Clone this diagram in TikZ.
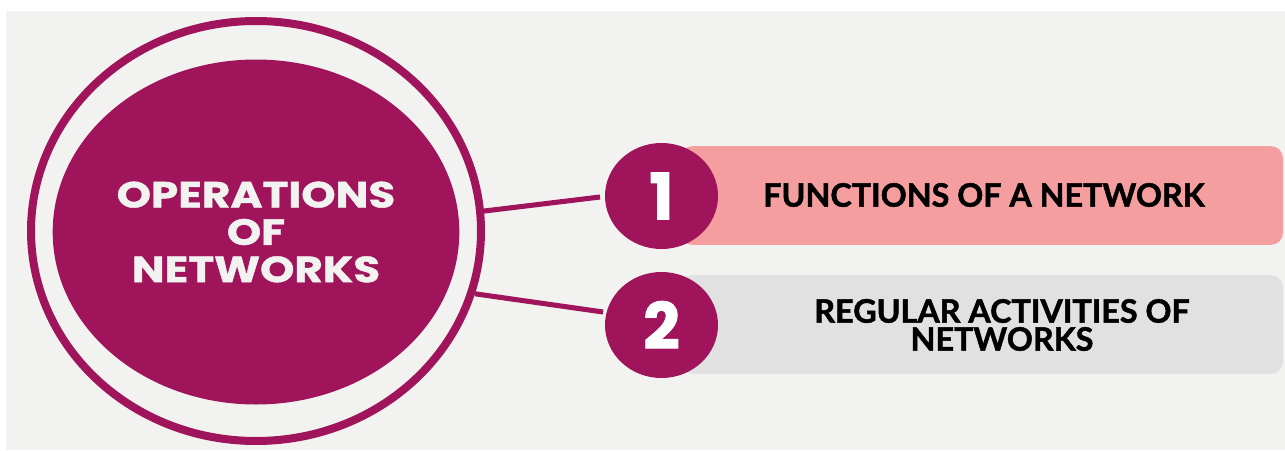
\documentclass[tikz,border=0pt]{standalone}
\usepackage{fontspec}
\setmainfont{Poppins}
\newfontfamily\corefont{Poppins}[FakeStretch=1.2, BoldFeatures={FakeBold=1.2}]
\newfontfamily\numfont{Poppins}[BoldFeatures={FakeBold=1.5}]
\newfontfamily\barfont{Lato}[BoldFeatures={FakeBold=1.5}]
\usetikzlibrary{shapes.geometric}
\definecolor{magen}{HTML}{9F145A}
\definecolor{bgg}{HTML}{F2F2F0}
\definecolor{pinkbar}{HTML}{F59E9F}
\definecolor{graybar}{HTML}{E0E1E0}
\tikzset{
  ringstyle/.style={ellipse, draw=magen, line width=6pt, fill=none},
  corestyle/.style={ellipse, fill=magen, text=bgg, align=center, font=\corefont\bfseries\fontsize{27.3}{28}\selectfont},
  numstyle/.style={ellipse, fill=magen, text=white, font=\numfont\bfseries\fontsize{48}{48}\selectfont, minimum width=84.75pt, minimum height=79.5pt, inner sep=0pt},
  barstyle/.style={rectangle, rounded corners=9pt, minimum width=452pt, minimum height=74pt, anchor=west},
  bartext/.style={text=black, inner sep=1pt, text height=17.5pt, text depth=0pt, font=\barfont\bfseries\fontsize{24.2}{24}\selectfont},
  link/.style={draw=magen, line width=3.8pt}
}
\begin{document}
\begin{tikzpicture}[x=0.75pt,y=-0.75pt]
\useasboundingbox (0,0) rectangle (1285,450);
\fill[white] (0,0) rectangle (1285,450);
\fill[bgg] (6,11) rectangle (1285,450);
% bars
\node[barstyle, fill=pinkbar] (bar1) at (680,195.5) {};
\node[barstyle, fill=graybar] (bar2) at (680,324.5) {};
\node[bartext] (t1) at (984,195) {FUNCTIONS OF A NETWORK};
\node[bartext] (t2a) at (1002,311) {REGULAR ACTIVITIES OF};
\node[bartext] (t2b) at (1002,339) {NETWORKS};
% main circle
\node[ringstyle, minimum width=337.5pt, minimum height=315pt] (ring) at (256,231) {};
\node[corestyle, minimum width=271.5pt, minimum height=258.75pt] (core) at (256,232) {OPERATIONS\\OF\\NETWORKS};
% connectors
\draw[link] (ring.5) -- (600,197) coordinate (e1);
\draw[link] (ring.-16) -- (603,312) coordinate (e2);
% number circles
\node[numstyle] (n1) at (661.5,196) {1};
\node[numstyle] (n2) at (661.5,325) {2};
\end{tikzpicture}
\end{document}
